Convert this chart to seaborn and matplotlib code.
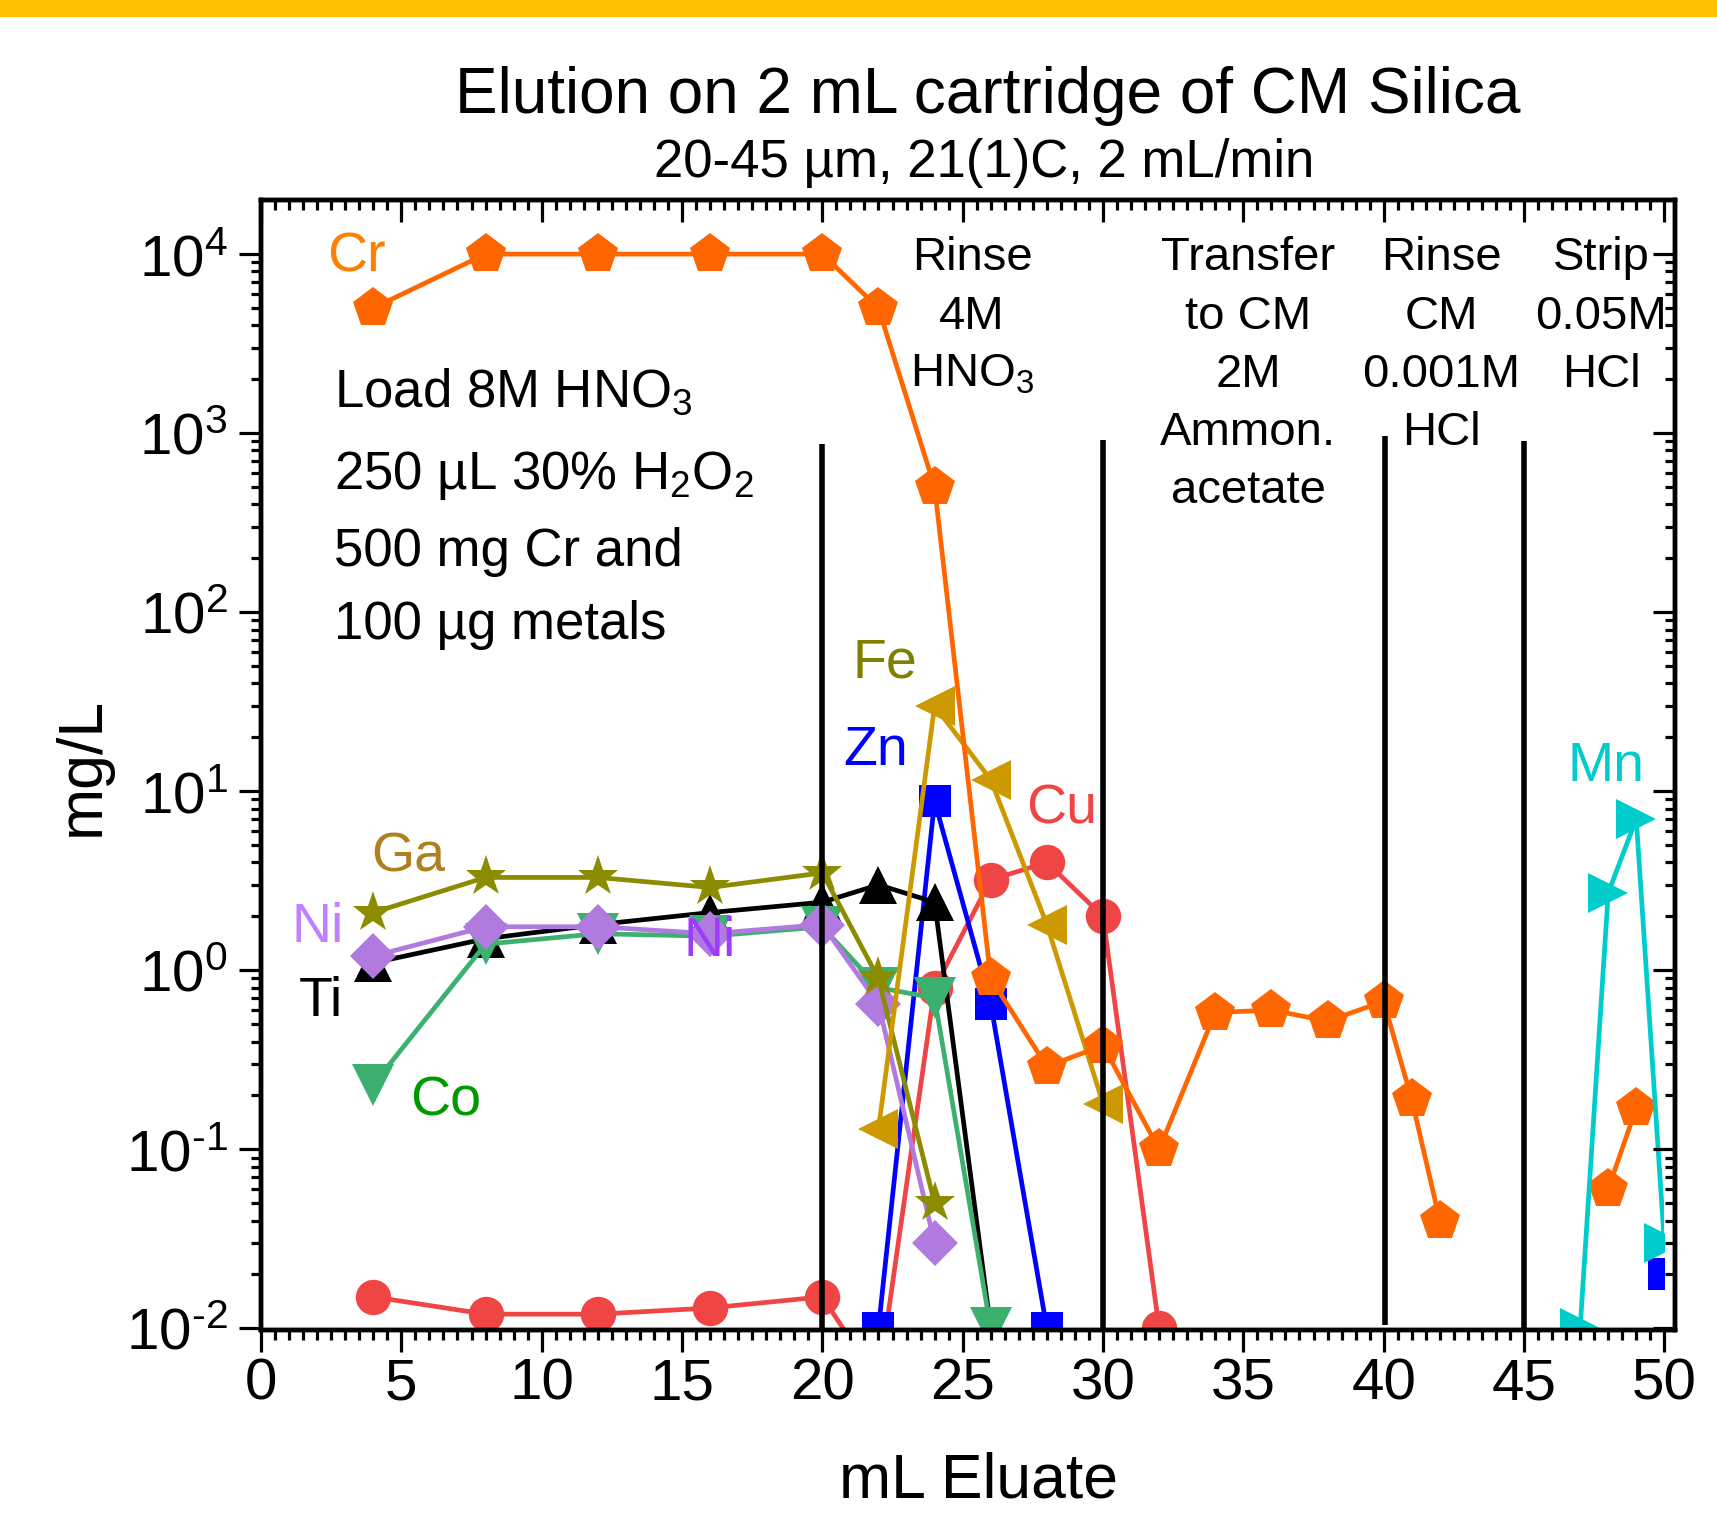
import numpy as np
import pandas as pd
import matplotlib
matplotlib.use("Agg")
import matplotlib.pyplot as plt
import seaborn as sns
from matplotlib.ticker import MultipleLocator, LogLocator, NullFormatter, FuncFormatter
from matplotlib.transforms import Bbox, TransformedBbox
from matplotlib.patches import Rectangle

# ---------------- data (mL eluate, mg/L) ----------------
cr_x = [4, 8, 12, 16, 20, 22, 24, 26, 28, 30, 32, 34, 36, 38, 40, 41, 42, 45, 48, 49]
cr_y = [5000, 10000, 10000, 10000, 10000, 5000, 500, 0.9, 0.29, 0.38, 0.10, 0.58,
        0.60, 0.52, 0.67, 0.19, 0.04, np.nan, 0.06, 0.17]
cu_x = [4, 8, 12, 16, 20, 22, 24, 26, 28, 30, 32]
cu_y = [0.015, 0.012, 0.012, 0.013, 0.015, 0.005, 0.8, 3.2, 4.0, 2.0, 0.01]
zn_x = [22, 24, 26, 28, 40, 50]
zn_y = [0.01, 8.8, 0.65, 0.01, np.nan, 0.02]
ti_x = [4, 8, 12, 16, 20, 22, 24, 26]
ti_y = [1.1, 1.5, 1.8, 2.1, 2.4, 3.0, 2.4, 0.01]
co_x = [4, 8, 12, 16, 20, 22, 24, 26]
co_y = [0.23, 1.4, 1.6, 1.55, 1.75, 0.8, 0.7, 0.01]
ni_x = [4, 8, 12, 16, 20, 22, 24]
ni_y = [1.2, 1.75, 1.75, 1.6, 1.8, 0.65, 0.03]
ga_x = [4, 8, 12, 16, 20, 22, 24]
ga_y = [2.1, 3.3, 3.3, 2.9, 3.5, 0.9, 0.05]
fe_x = [22, 24, 26, 28, 30]
fe_y = [0.13, 30, 11.6, 1.8, 0.18]
mn_x = [47, 48, 49, 50]
mn_y = [0.01, 2.7, 7.0, 0.03]

boundary_x = [20, 30, 40.05, 45]
boundary_top = [875, 916, 964, 904]
boundary_bottom = [0.001, 0.001, 0.0105, 0.001]

x_ticks_major = 5
x_ticks_minor = 0.5

# ---------------- style ----------------
sns.set_style("ticks")
plt.rcParams.update({
    "font.family": ["Liberation Sans", "DejaVu Sans"],
    "mathtext.fontset": "custom",
    "mathtext.rm": "Liberation Sans",
    "mathtext.it": "Liberation Sans:italic",
    "mathtext.bf": "Liberation Sans:bold",
    "axes.unicode_minus": False,
    "axes.linewidth": 3.1,
    "axes.edgecolor": "black",
    "text.color": "black",
    "axes.labelcolor": "black",
    "xtick.color": "black",
    "ytick.color": "black",
})

W, H, DPI = 1717, 1521, 100
fig = plt.figure(figsize=(W / DPI, H / DPI), dpi=DPI)
fig.patch.set_facecolor("white")
L, R, T, B = 261, 1675, 200.4, 1330
ax = fig.add_axes([L / W, 1 - B / H, (R - L) / W, (B - T) / H])
ax.set_yscale("log")
XLIM = (0, 50.38)
YLIM = (0.00979, 19950)
ax.set_xlim(*XLIM)
ax.set_ylim(*YLIM)

# top band
fig.patches.append(Rectangle((0, 1 - 17 / H), 1, 17 / H, transform=fig.transFigure,
                             facecolor="#FFC000", edgecolor="none", zorder=0))

LW = 3.4


def plot_series(xs, ys, color, marker, ms, z, clip50=False):
    df = pd.DataFrame({"x": xs, "y": ys})
    seg = df["y"].isna().cumsum()
    ok = df["y"].notna()
    n0 = len(ax.lines)
    for _, part in df[ok].groupby(seg[ok]):
        sns.lineplot(data=part, x="x", y="y", ax=ax, color=color, marker=marker,
                     markersize=ms, markeredgewidth=0, linewidth=LW,
                     estimator=None, sort=False, legend=False, zorder=z)
    if clip50:
        cb = TransformedBbox(Bbox([[0, YLIM[0]], [50, YLIM[1]]]), ax.transData)
        for ln in ax.lines[n0:]:
            ln.set_clip_box(cb)


plot_series(cu_x, cu_y, "#F04545", "o", 25.5, 2.0)
plot_series(zn_x, zn_y, "#0000FF", "s", 23.5, 2.1, clip50=True)
plot_series(ti_x, ti_y, "#000000", "^", 28, 2.2)
plot_series(co_x, co_y, "#3CB06E", "v", 30, 2.3)
plot_series(ni_x, ni_y, "#B07ADF", "D", 23, 2.4)
plot_series(ga_x, ga_y, "#8C8C00", "*", 31, 2.5)
plot_series(fe_x, fe_y, "#CC9900", "<", 29, 2.6)
plot_series(cr_x, cr_y, "#FF6600", "p", 30, 2.7)
plot_series(mn_x, mn_y, "#00CCCC", ">", 29, 2.8, clip50=True)

ax.vlines(boundary_x, boundary_bottom, boundary_top, colors="black", linewidth=4.0, zorder=2.9)

ax.set_xlim(*XLIM)
ax.set_ylim(*YLIM)
ax.set_xlabel("")
ax.set_ylabel("")


def log_label(v, pos):
    e = int(round(np.log10(v)))
    if e < 0:
        return r"$\mathregular{10^{\text{-}%d}}$" % (-e)
    return r"$\mathregular{10^{%d}}$" % e


# ticks: bottom/left outward
ax.xaxis.set_major_locator(MultipleLocator(x_ticks_major))
ax.xaxis.set_minor_locator(MultipleLocator(x_ticks_minor))
ax.yaxis.set_major_locator(LogLocator(base=10, numticks=20))
ax.yaxis.set_minor_locator(LogLocator(base=10, subs=np.arange(2, 10), numticks=20))
ax.yaxis.set_major_formatter(FuncFormatter(log_label))
ax.yaxis.set_minor_formatter(NullFormatter())
ax.tick_params(which="both", direction="out", width=2.3, top=False, right=False)
ax.tick_params(which="major", length=15.8, labelsize=42)
ax.tick_params(which="minor", length=7.5)
ax.tick_params(axis="y", which="major", pad=8)
ax.tick_params(axis="x", which="major", pad=4)
for s in ax.spines.values():
    s.set_linewidth(3.1)

# top / right inward ticks via twins
axt = ax.twiny()
axt.set_xlim(*XLIM)
axt.xaxis.set_major_locator(MultipleLocator(x_ticks_major))
axt.xaxis.set_minor_locator(MultipleLocator(x_ticks_minor))
axt.xaxis.set_major_formatter(NullFormatter())
axt.tick_params(which="both", direction="in", width=2.3, top=True, bottom=False)
axt.tick_params(which="major", length=15.8)
axt.tick_params(which="minor", length=7.5)

axr = ax.twinx()
axr.set_yscale("log")
axr.set_ylim(*YLIM)
axr.yaxis.set_major_locator(LogLocator(base=10, numticks=20))
axr.yaxis.set_minor_locator(LogLocator(base=10, subs=np.arange(2, 10), numticks=20))
axr.yaxis.set_major_formatter(NullFormatter())
axr.yaxis.set_minor_formatter(NullFormatter())
axr.tick_params(which="both", direction="in", width=2.3, right=True, left=False)
axr.tick_params(which="major", length=15.8)
axr.tick_params(which="minor", length=7.5)
for a in (axt, axr):
    for s in a.spines.values():
        s.set_linewidth(3.1)


def ftext(px, py, s, **kw):
    return fig.text(px / W, 1 - py / H, s, **kw)


# titles and axis labels
ftext(988, 113, "Elution on 2 mL cartridge of CM Silica", ha="center", va="baseline", fontsize=46)
ftext(984, 177, "20-45 µm, 21(1)C, 2 mL/min", ha="center", va="baseline", fontsize=38)
ftext(978, 1497, "mL Eluate", ha="center", va="baseline", fontsize=45)
ftext(99, 766, "mg/L", ha="center", va="baseline", rotation=90, rotation_mode="anchor", fontsize=45)

# element labels
labels = [
    ("Cr", 356, 272, "#FF8000"),
    ("Fe", 885, 677, "#808000"),
    ("Zn", 876, 765, "#0000FF"),
    ("Cu", 1062, 823, "#F04545"),
    ("Mn", 1606, 781, "#00CCCC"),
    ("Ga", 408, 871, "#B08020"),
    ("Ni", 318, 942, "#C080FF"),
    ("Ti", 321, 1016, "#000000"),
    ("Co", 446, 1115, "#009900"),
    ("Ni", 710, 956, "#9D3BFF"),
]
for s, px, py, c in labels:
    ftext(px, py, s, ha="center", va="baseline", fontsize=40, color=c, zorder=5)

# load conditions block
load_lines = ["Load 8M HNO$_\\mathregular{3}$",
              "250 µL 30% H$_\\mathregular{2}$O$_\\mathregular{2}$",
              "500 mg Cr and",
              "100 µg metals"]
for s, py in zip(load_lines, [407, 489, 566, 639]):
    ftext(334, py, s, ha="left", va="baseline", fontsize=38)

# phase annotations
phase_y = [270, 329, 387, 445, 503]
phases = [
    (972, ["Rinse", "4M", "HNO$_\\mathregular{3}$"]),
    (1248, ["Transfer", "to CM", "2M", "Ammon.", "acetate"]),
    (1441, ["Rinse", "CM", "0.001M", "HCl"]),
    (1601, ["Strip", "0.05M", "HCl"]),
]
for px, lines in phases:
    for s, py in zip(lines, phase_y):
        ftext(px, py, s, ha="center", va="baseline", fontsize=34)

fig.savefig("out.png", dpi=DPI)
